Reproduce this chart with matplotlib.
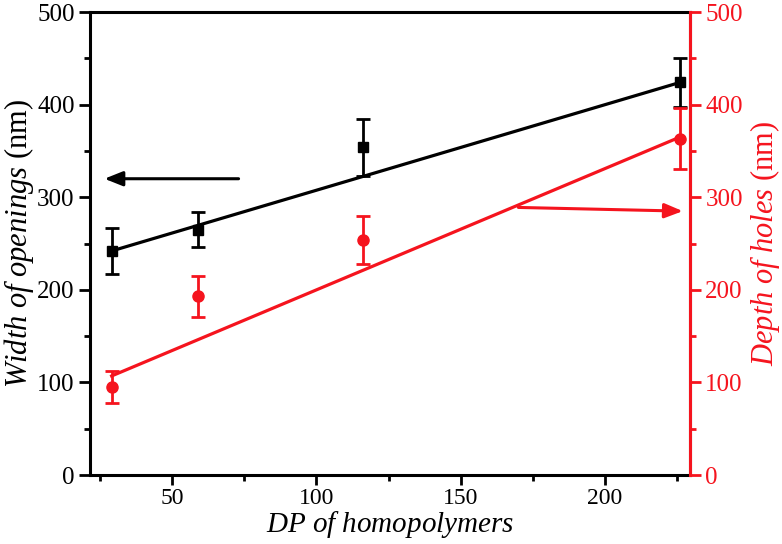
import matplotlib
matplotlib.use('Agg')
import matplotlib.pyplot as plt
from matplotlib.ticker import MultipleLocator

plt.rcParams['font.family'] = 'Liberation Serif'
plt.rcParams['mathtext.fontset'] = 'custom'
plt.rcParams['mathtext.rm'] = 'Liberation Serif'
plt.rcParams['mathtext.it'] = 'Liberation Serif:italic'

# DP of homopolymers
dp = [29, 59, 116, 226]

# width of openings (nm), left axis
width = [242, 265, 354, 424]
width_err = [25, 19, 31, 26]

# depth of holes (nm), right axis
depth = [95, 193, 254, 363]
depth_err = [17, 22, 26, 33]

# fitted lines, end points
fit_x = [29, 226]
width_fit = [242, 424]
depth_fit = [107, 365]

RED = '#f5141e'


def style_axis(ax, color):
    ax.yaxis.set_major_locator(MultipleLocator(100))
    ax.yaxis.set_minor_locator(MultipleLocator(50))
    ax.tick_params(axis='y', which='major', direction='out', length=8, width=2,
                   colors=color, labelsize=18, pad=3)
    ax.tick_params(axis='y', which='minor', direction='out', length=4, width=2,
                   colors=color)


fig = plt.figure(figsize=(7.82, 5.44), dpi=100)
ax = fig.add_axes([0.1151, 0.1268, 0.7673, 0.851])
ax2 = ax.twinx()

ax.plot(fit_x, width_fit, color='black', lw=2.3, zorder=2)
ax.errorbar(dp, width, yerr=width_err, fmt='s', color='black', ms=6.5,
            elinewidth=2, capsize=5, capthick=2, zorder=3)

ax2.plot(fit_x, depth_fit, color=RED, lw=2.3, zorder=2)
ax2.errorbar(dp, depth, yerr=depth_err, fmt='o', color=RED, ms=8,
             elinewidth=2, capsize=5, capthick=2, zorder=3)

ax.set_xlim(21.5, 229.5)
ax.set_ylim(0, 500)
ax2.set_ylim(0, 500)

ax.xaxis.set_major_locator(MultipleLocator(50))
ax.xaxis.set_minor_locator(MultipleLocator(25))
ax.tick_params(axis='x', which='major', direction='out', length=7, width=2,
               labelsize=17, pad=2)
ax.tick_params(axis='x', which='minor', direction='out', length=4, width=2)

style_axis(ax, 'black')
style_axis(ax2, RED)
ax2.tick_params(axis='y', labelcolor=RED)

for s in ax.spines.values():
    s.set_linewidth(2.2)
ax2.spines['right'].set_linewidth(2.2)
ax2.spines['right'].set_color(RED)
ax2.spines['left'].set_visible(False)
ax2.spines['top'].set_visible(False)
ax2.spines['bottom'].set_visible(False)

ax.set_xlabel(r'$\mathit{DP\ of\ homopolymers}$', fontsize=21, labelpad=0)
ax.set_ylabel(r'$\mathit{Width\ of\ openings}$ (nm)', fontsize=22, labelpad=1)
ax2.set_ylabel(r'$\mathit{Depth\ of\ holes}$ (nm)', fontsize=22, color=RED,
               labelpad=4)

ax.annotate('', xy=(26.5, 320), xytext=(73, 320),
            arrowprops=dict(arrowstyle='-|>,head_length=0.5,head_width=0.2',
                            color='black', lw=2.2, mutation_scale=22,
                            shrinkA=0, shrinkB=0))
ax2.annotate('', xy=(227, 285), xytext=(170, 289),
             arrowprops=dict(arrowstyle='-|>,head_length=0.5,head_width=0.2',
                             color=RED, lw=2.2, mutation_scale=22,
                             shrinkA=0, shrinkB=0))

fig.savefig('out.png', dpi=100)
